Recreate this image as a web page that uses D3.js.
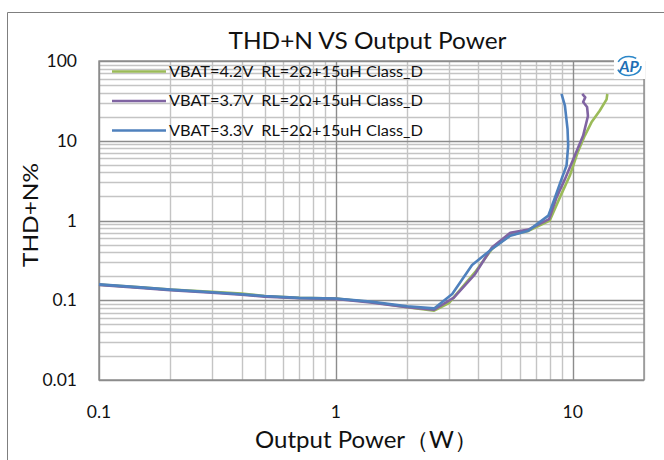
<!DOCTYPE html>
<html>
<head>
<meta charset="utf-8">
<script src="https://cdn.jsdelivr.net/npm/d3@7"></script>
<style>
  body { margin: 0; background: #fff; }
  text { font-family: Lato, "Noto Sans", sans-serif; fill: #111; white-space: pre; }
</style>
</head>
<body>
<div id="chart"></div>
<script>
// legend labels, one per series
var seriesNames = [
  "VBAT=4.2V  RL=2\u03A9+15uH Class_D",
  "VBAT=3.7V  RL=2\u03A9+15uH Class_D",
  "VBAT=3.3V  RL=2\u03A9+15uH Class_D"
];
var seriesColors = ["#9bbb59", "#8064a2", "#4f81bd"];

// output power (W) and THD+N (%)
var pw42 = [0.1, 0.15, 0.2, 0.3, 0.4, 0.5, 0.7, 1.0, 1.4, 2.0, 2.6, 3.0, 3.87, 4.56, 5.45, 6.5, 8.0, 8.83, 9.73, 10.5, 11.25, 12, 13, 13.9, 14];
var thd42 = [0.157, 0.145, 0.136, 0.128, 0.121, 0.113, 0.107, 0.105, 0.095, 0.082, 0.074, 0.092, 0.225, 0.44, 0.66, 0.74, 1.0, 1.95, 3.66, 7.2, 11.6, 17, 23.8, 33, 38.6];

var pw37 = [0.1, 0.15, 0.2, 0.3, 0.4, 0.5, 0.7, 1.0, 1.4, 2.0, 2.6, 3.15, 3.87, 4.56, 5.45, 6.5, 7.95, 8.55, 9.27, 10.2, 11.07, 11.6, 11.5, 11.07, 11.3, 10.97];
var thd37 = [0.156, 0.143, 0.134, 0.124, 0.117, 0.111, 0.106, 0.104, 0.094, 0.082, 0.076, 0.108, 0.213, 0.46, 0.7, 0.77, 1.04, 1.95, 3.3, 6.5, 11.6, 20.4, 26.5, 30.6, 35, 38.6];

var pw33 = [0.1, 0.15, 0.2, 0.3, 0.4, 0.5, 0.7, 1.0, 1.4, 2.0, 2.6, 3.1, 3.76, 4.56, 5.45, 6.5, 7.89, 8.42, 8.97, 9.42, 9.57, 9.51, 9.27, 8.97];
var thd33 = [0.158, 0.145, 0.136, 0.126, 0.119, 0.113, 0.107, 0.105, 0.096, 0.084, 0.079, 0.12, 0.277, 0.44, 0.645, 0.746, 1.15, 1.95, 3.3, 4.9, 8.7, 14, 27.5, 38.6];

var xTickLabels = [0.1, 1, 10];
var yTickLabels = [0.01, 0.1, 1, 10, 100];

(function() {
  var width = 664,
      height = 460;
  var plot = {left: 99, right: 644, top: 61, bottom: 380};

  var series = [
    {name: seriesNames[0], color: seriesColors[0], x: pw42, y: thd42},
    {name: seriesNames[1], color: seriesColors[1], x: pw37, y: thd37},
    {name: seriesNames[2], color: seriesColors[2], x: pw33, y: thd33}
  ];

  var x = d3.scaleLog().domain([0.1, 20]).range([plot.left, plot.right]);
  var y = d3.scaleLog().domain([0.01, 100]).range([plot.bottom, plot.top]);

  var svg = d3.select("#chart").append("svg")
      .attr("width", width)
      .attr("height", height);

  // outer chart frame (only left and top edges are in view)
  svg.append("path")
      .attr("d", "M7.5," + height + "V12.5H" + width)
      .attr("fill", "none")
      .attr("stroke", "#7f7f7f");

  var isMajor = function(v) {
    return Math.abs(Math.log10(v) - Math.round(Math.log10(v))) < 1e-6;
  };

  // gridlines, minor first so majors sit on top
  var grid = svg.append("g");
  var xt = x.ticks(), yt = y.ticks();
  [false, true].forEach(function(major) {
    grid.selectAll(null)
        .data(xt.filter(function(v) { return isMajor(v) === major; }))
        .enter().append("line")
        .attr("x1", function(d) { return Math.round(x(d)) + 0.5; })
        .attr("x2", function(d) { return Math.round(x(d)) + 0.5; })
        .attr("y1", plot.top)
        .attr("y2", plot.bottom)
        .attr("stroke", major ? "#8c8c8c" : "#c4c4c4")
        .attr("stroke-width", 1.4);
    grid.selectAll(null)
        .data(yt.filter(function(v) { return isMajor(v) === major; }))
        .enter().append("line")
        .attr("y1", function(d) { return Math.round(y(d)) + 0.5; })
        .attr("y2", function(d) { return Math.round(y(d)) + 0.5; })
        .attr("x1", plot.left)
        .attr("x2", plot.right)
        .attr("stroke", major ? "#8c8c8c" : "#c4c4c4")
        .attr("stroke-width", 1.4);
  });

  svg.append("rect")
      .attr("x", plot.left)
      .attr("y", plot.top)
      .attr("width", plot.right - plot.left)
      .attr("height", plot.bottom - plot.top)
      .attr("fill", "none")
      .attr("stroke", "#8c8c8c")
      .attr("stroke-width", 1.4);

  // tick labels
  svg.append("g").selectAll("text")
      .data(xTickLabels)
      .enter().append("text")
      .attr("x", function(d) { return x(d); })
      .attr("y", 418)
      .attr("text-anchor", "middle")
      .attr("font-size", 17.5)
      .text(function(d) { return d; });

  svg.append("g").selectAll("text")
      .data(yTickLabels)
      .enter().append("text")
      .attr("x", 77)
      .attr("y", function(d) { return y(d); })
      .attr("dy", "0.35em")
      .attr("text-anchor", "end")
      .attr("font-size", 17.5)
      .text(function(d) { return d; });

  // curves
  var line = d3.line()
      .x(function(d) { return x(d[0]); })
      .y(function(d) { return y(d[1]); });

  svg.append("g").selectAll("path")
      .data(series)
      .enter().append("path")
      .attr("d", function(s) { return line(d3.zip(s.x, s.y)); })
      .attr("fill", "none")
      .attr("stroke", function(s) { return s.color; })
      .attr("stroke-width", 2.6)
      .attr("stroke-linejoin", "round");

  // legend
  var legend = svg.append("g").selectAll("g")
      .data(series)
      .enter().append("g")
      .attr("transform", function(d, i) { return "translate(0," + (71.5 + i * 29.5) + ")"; });
  legend.append("line")
      .attr("x1", 112).attr("x2", 166)
      .attr("stroke", function(d) { return d.color; })
      .attr("stroke-width", 2.6);
  legend.append("text")
      .attr("x", 169)
      .attr("y", 5)
      .attr("font-size", 14.5)
      .attr("textLength", 254)
      .attr("lengthAdjust", "spacingAndGlyphs")
      .text(function(d) { return d.name; });

  // AP logo
  svg.append("rect")
      .attr("x", 614).attr("y", 52)
      .attr("width", 31).attr("height", 27)
      .attr("fill", "#fff");
  svg.append("ellipse")
      .attr("cx", 629).attr("cy", 66)
      .attr("rx", 12).attr("ry", 9.5)
      .attr("fill", "none")
      .attr("stroke", "#2a86c8")
      .attr("stroke-width", 1.6)
      .attr("stroke-dasharray", "30,8,20,100");
  svg.append("text")
      .attr("x", 629).attr("y", 72)
      .attr("text-anchor", "middle")
      .attr("font-size", 16)
      .attr("font-weight", "bold")
      .attr("font-style", "italic")
      .style("fill", "#1f6fb5")
      .text("AP");

  // titles
  svg.append("text")
      .attr("x", 367.5)
      .attr("y", 49)
      .attr("text-anchor", "middle")
      .attr("font-size", 23.5)
      .attr("textLength", 278)
      .attr("lengthAdjust", "spacingAndGlyphs")
      .text("THD+N VS Output Power");

  svg.append("text")
      .attr("x", 366.5)
      .attr("y", 448)
      .attr("text-anchor", "middle")
      .attr("font-size", 23)
      .attr("textLength", 223)
      .attr("lengthAdjust", "spacingAndGlyphs")
      .text("Output Power\uFF08W\uFF09");

  svg.append("text")
      .attr("transform", "translate(38,215)rotate(-90)")
      .attr("text-anchor", "middle")
      .attr("font-size", 22)
      .attr("textLength", 104)
      .attr("lengthAdjust", "spacingAndGlyphs")
      .text("THD+N%");
})();
</script>
</body>
</html>
